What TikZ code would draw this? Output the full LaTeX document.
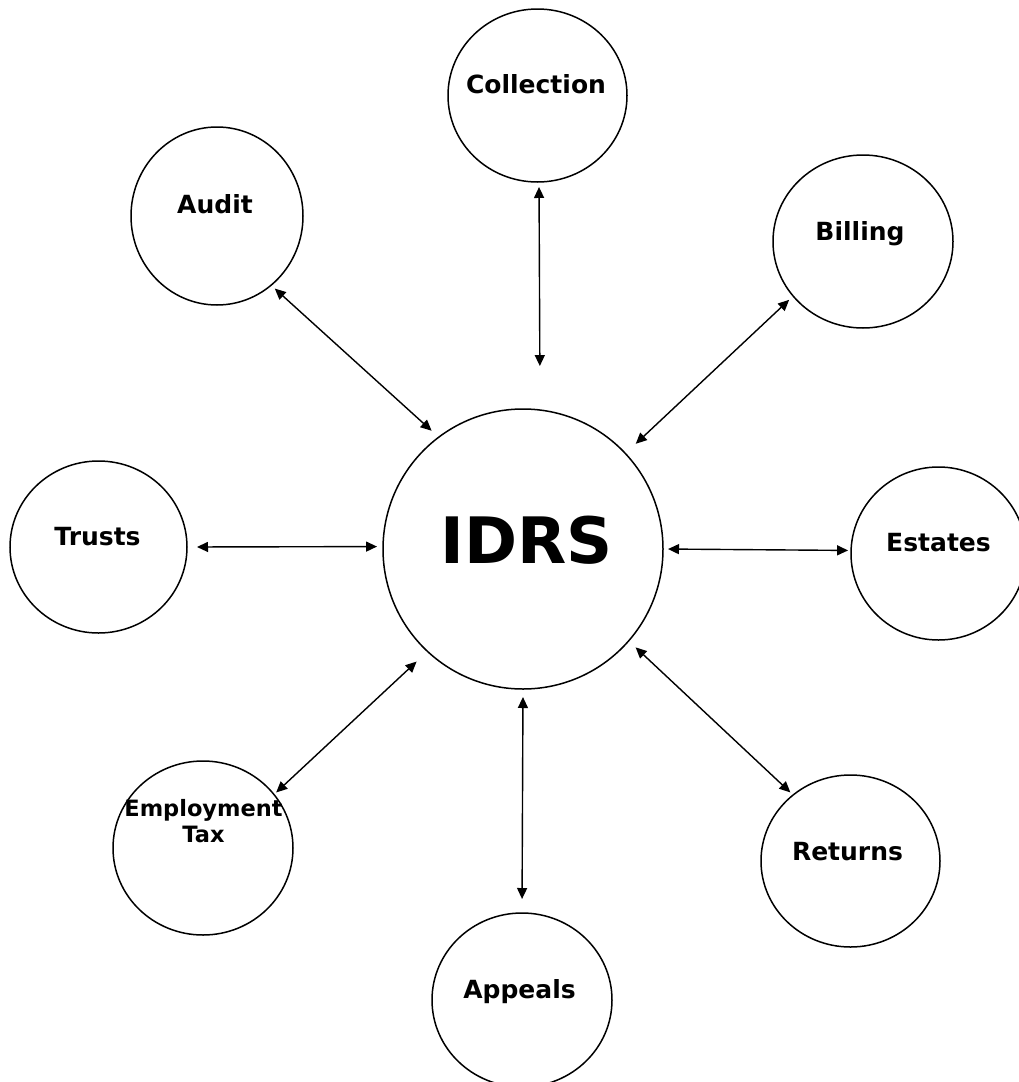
\documentclass[tikz,border=0pt]{standalone}
\usepackage{fontspec}
\setmainfont{DejaVu Sans}
\usetikzlibrary{shapes.geometric,arrows.meta}
\begin{document}
\begin{tikzpicture}[x=1pt,y=-1pt,
  bubble/.style={draw,ellipse,line width=1.5pt,inner sep=0pt,outer sep=0pt},
  lbl/.style={anchor=base,inner sep=0pt,font=\bfseries\fontsize{25}{30}\selectfont},
  link/.style={{Triangle[length=11pt,width=10pt]}-{Triangle[length=11pt,width=10pt]},line width=1.4pt}]
\useasboundingbox (0,0) rectangle (1019,1082);
\fill[white] (0,0) rectangle (1019,1082);
% circles
\node[bubble,minimum width=280pt,minimum height=280pt] (idrs) at (523,549) {};
\node[bubble,minimum width=179pt,minimum height=173pt] (collection) at (537.5,95.5) {};
\node[bubble,minimum width=172pt,minimum height=178pt] (audit) at (217,216) {};
\node[bubble,minimum width=180pt,minimum height=173pt] (billing) at (863,241.5) {};
\node[bubble,minimum width=177pt,minimum height=172pt] (trusts) at (98.5,547) {};
\node[bubble,minimum width=175pt,minimum height=173pt] (estates) at (938.5,553.5) {};
\node[bubble,minimum width=180pt,minimum height=174pt] (employment) at (203,848) {};
\node[bubble,minimum width=180pt,minimum height=174pt] (appeals) at (522,1000) {};
\node[bubble,minimum width=179pt,minimum height=172pt] (returns) at (850.5,861) {};
% labels
\node[lbl,font=\bfseries\fontsize{64}{70}\selectfont] (idrsT) at ([xshift=3.5pt,yshift=-14pt]idrs.center) {IDRS};
\node[lbl] (collectionT) at ([xshift=-1.5pt,yshift=2.5pt]collection.center) {Collection};
\node[lbl] (auditT) at ([xshift=-2pt,yshift=3pt]audit.center) {Audit};
\node[lbl] (billingT) at ([xshift=-3pt,yshift=1.5pt]billing.center) {Billing};
\node[lbl] (trustsT) at ([xshift=-1pt,yshift=2pt]trusts.center) {Trusts};
\node[lbl] (estatesT) at ([xshift=0pt,yshift=2pt]estates.center) {Estates};
\node[lbl] (returnsT) at ([xshift=-3pt,yshift=1pt]returns.center) {Returns};
\node[lbl] (appealsT) at ([xshift=-2.5pt,yshift=2pt]appeals.center) {Appeals};
\node[lbl,align=center,font=\bfseries\fontsize{22.5}{26}\selectfont] (employmentT) at ([xshift=0.5pt,yshift=6pt]employment.center) {Employment\\Tax};
% connectors
\draw[link,shorten <=5pt,shorten >=44pt] (collection.-89) -- (idrs.83.4);
\draw[link,shorten <=5pt,shorten >=9.6pt] (audit.-52) -- (idrs.127.9);
\draw[link,shorten <=5.5pt,shorten >=14.2pt] (billing.218.5) -- (idrs.43.5);
\draw[link,shorten <=10pt,shorten >=6pt] (trusts.-0.7) -- (idrs.179.6);
\draw[link,shorten <=5pt,shorten >=3pt] (idrs.-0.8) -- (estates.178.4);
\draw[link,shorten <=3pt,shorten >=14.9pt] (employment.37.7) -- (idrs.227.3);
\draw[link,shorten <=8pt,shorten >=14pt] (idrs.-90.4) -- (appeals.90);
\draw[link,shorten <=9.5pt,shorten >=3.8pt] (idrs.-41.4) -- (returns.131);
\end{tikzpicture}
\end{document}
